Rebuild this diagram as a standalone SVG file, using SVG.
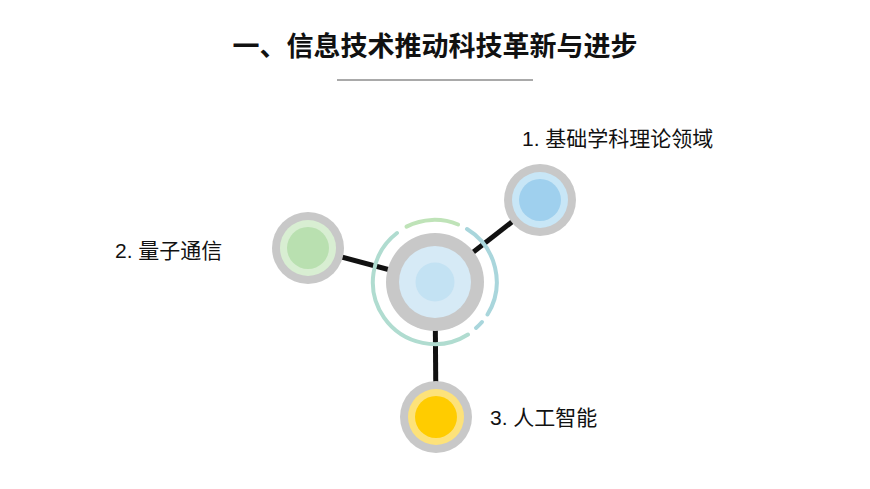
<svg xmlns="http://www.w3.org/2000/svg" width="870" height="489" viewBox="0 0 870 489">
<style>
text{font-family:"Liberation Sans","Noto Sans CJK SC",sans-serif;fill:#111}
.lbl{font-size:21px}
.g{fill:#c8c8c8}
.arc{fill:none;stroke-width:4;stroke-linecap:round}
</style>
<rect width="870" height="489" fill="#fff"/>
<text x="435" y="56" font-size="27" font-weight="bold" text-anchor="middle">一、信息技术推动科技革新与进步</text>
<line x1="337" y1="80" x2="533" y2="80" stroke="#555" stroke-width="1"/>
<g id="connectors" stroke="#111" stroke-width="5">
<line x1="435" y1="282" x2="540" y2="200"/>
<line x1="435" y1="282" x2="308" y2="248"/>
<line x1="435" y1="282" x2="436" y2="417"/>
</g>
<g id="center">
<path class="arc" stroke="#bfe3b8" d="M406.5,226.6 A62,62 0 0 1 458.1,224.5"/>
<path class="arc" stroke="#a9d6dc" d="M467,229 A62,62 0 0 1 487.5,314.5"/>
<path class="arc" stroke="#a9d6dc" d="M482,322 A62,62 0 0 1 476,328"/>
<path class="arc" stroke="#b0dcd0" d="M468,334.5 A62,62 0 0 1 397,233"/>
<circle class="g" cx="435" cy="282" r="49"/>
<circle cx="435" cy="282" r="36" fill="#d6eaf6"/>
<circle cx="435" cy="282" r="19.5" fill="#c3e2f3"/>
</g>
<g id="n1">
<circle class="g" cx="540" cy="200" r="36"/>
<circle cx="540" cy="200" r="28" fill="#c8e6f6"/>
<circle cx="540" cy="200" r="21" fill="#9fd0ee"/>
<text class="lbl" x="522" y="146">1. 基础学科理论领域</text>
</g>
<g id="n2">
<circle class="g" cx="308" cy="248" r="36"/>
<circle cx="308" cy="248" r="28" fill="#d8eed2"/>
<circle cx="308" cy="248" r="21" fill="#b9e0b0"/>
<text class="lbl" x="115" y="258">2. 量子通信</text>
</g>
<g id="n3">
<circle class="g" cx="436" cy="417" r="36"/>
<circle cx="436" cy="417" r="28" fill="#fde27a"/>
<circle cx="436" cy="417" r="21" fill="#ffcc00"/>
<text class="lbl" x="490" y="425">3. 人工智能</text>
</g>
</svg>
